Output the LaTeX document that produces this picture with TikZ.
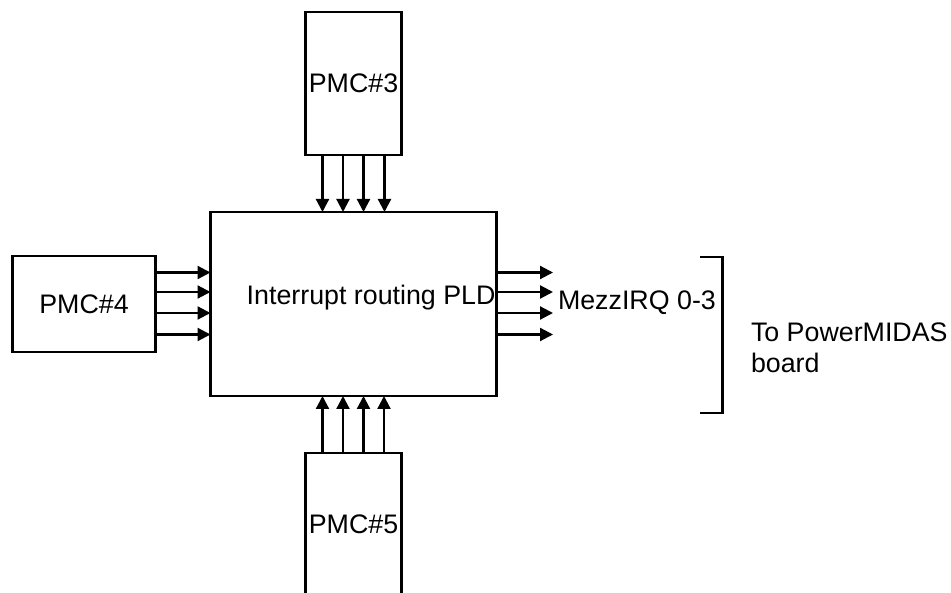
\documentclass[tikz,border=0pt]{standalone}
\usepackage{fontspec}
\setmainfont{Liberation Sans}
\usetikzlibrary{positioning,arrows.meta}

\begin{document}
\begin{tikzpicture}[
        x=1pt, y=1pt,
        line width=2.2pt,
        >={Triangle[length=13pt,width=13pt]},
        boxnode/.style={rectangle, draw=black, inner sep=0pt, outer sep=0pt, font=\fontsize{26.8}{31}\selectfont},
        labelnode/.style={inner sep=0pt, outer sep=0pt, font=\fontsize{26.8}{31}\selectfont},
        node distance=57pt
        ]
        \useasboundingbox (0,0) rectangle (951,-593);
        \clip (0,0) rectangle (951,-593);
        \node[boxnode, minimum width=286pt, minimum height=184pt]  (pld)   at (353.5,-304)      {};
        \node[boxnode, minimum width=96pt, minimum height=143pt]   (pmc_3) [above       =of pld]  {PMC\#3};
        \node[boxnode, minimum width=143pt, minimum height=96pt]   (pmc_4) [left  =55pt of pld]   {PMC\#4};
        \node[boxnode, minimum width=96pt, minimum height=143pt]   (pmc_5) [below       =of pld]  {PMC\#5};
        \coordinate[right=56.5pt of pld.east]                      (irq_end);
        \node[labelnode, anchor=base east]   (pld_label)  at ([xshift=-1pt,yshift=-1pt]pld.east)  {Interrupt routing PLD};
        \node[labelnode, anchor=base west]   (mezz_irq)   at ([xshift=5pt,yshift=-6pt]irq_end)    {MezzIRQ 0-3};
        \node[labelnode, anchor=north west, align=left] (to_board) at (751,-323) {To PowerMIDAS\\board};
        \path[->]
        ([xshift=-31pt]pmc_3.south)   edge    ([xshift=-31pt]pld.north)
        ([xshift=-10.5pt]pmc_3.south) edge    ([xshift=-10.5pt]pld.north)
        ([xshift=10pt]pmc_3.south)    edge    ([xshift=10pt]pld.north)
        ([xshift=31pt]pmc_3.south)    edge    ([xshift=31pt]pld.north)
        ([yshift=31.5pt]pmc_4.east)   edge    ([yshift=31.5pt]pld.west)
        ([yshift=12pt]pmc_4.east)     edge    ([yshift=12pt]pld.west)
        ([yshift=-9pt]pmc_4.east)     edge    ([yshift=-9pt]pld.west)
        ([yshift=-30.5pt]pmc_4.east)  edge    ([yshift=-30.5pt]pld.west)
        ([xshift=-31pt]pmc_5.north)   edge    ([xshift=-31pt]pld.south)
        ([xshift=-10.5pt]pmc_5.north) edge    ([xshift=-10.5pt]pld.south)
        ([xshift=10pt]pmc_5.north)    edge    ([xshift=10pt]pld.south)
        ([xshift=30.5pt]pmc_5.north)  edge    ([xshift=30.5pt]pld.south)
        ([yshift=31.5pt]pld.east)     edge    ([yshift=31.5pt]irq_end)
        ([yshift=12pt]pld.east)       edge    ([yshift=12pt]irq_end)
        ([yshift=-9pt]pld.east)       edge    ([yshift=-9pt]irq_end)
        ([yshift=-30.5pt]pld.east)    edge    ([yshift=-30.5pt]irq_end);
        \draw (700,-257) -| (722.5,-412.7) -- (700,-412.7);
    \end{tikzpicture}
\end{document}
